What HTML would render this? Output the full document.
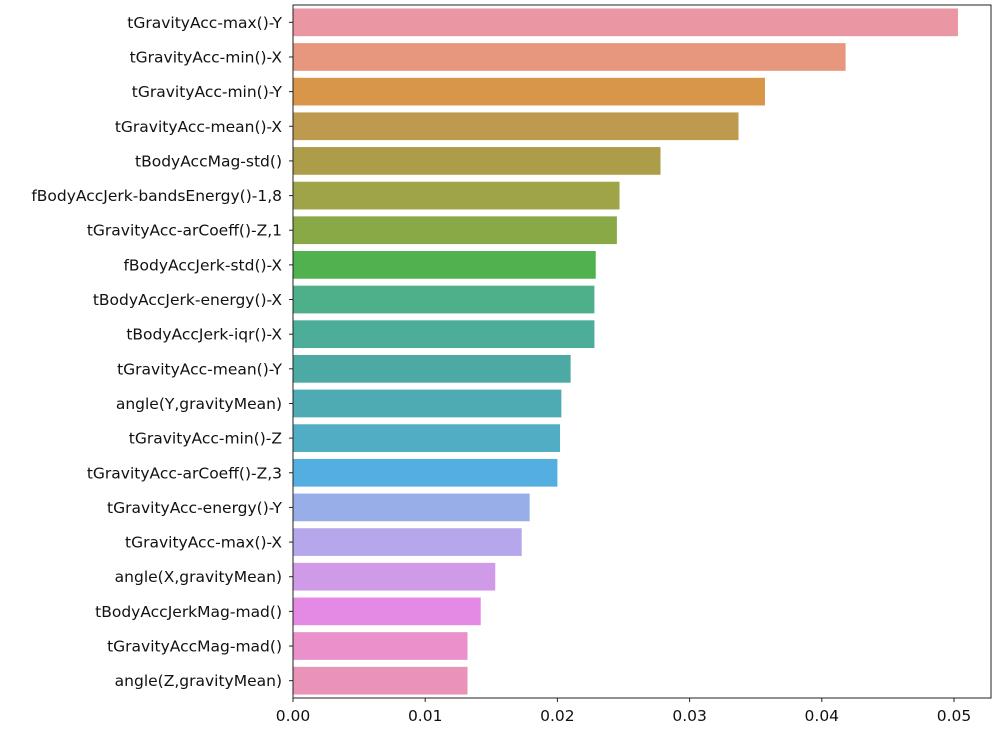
<!DOCTYPE html>
<html><head><meta charset="utf-8"><style>
body{margin:0;background:#fff}
svg text{font-family:"DejaVu Sans","Liberation Sans",sans-serif;font-size:15.5px;fill:#111}
</style></head><body>
<svg id="chart" width="1007" height="740" xmlns="http://www.w3.org/2000/svg"></svg>
<script>
const categories=["tGravityAcc-max()-Y","tGravityAcc-min()-X","tGravityAcc-min()-Y","tGravityAcc-mean()-X","tBodyAccMag-std()","fBodyAccJerk-bandsEnergy()-1,8","tGravityAcc-arCoeff()-Z,1","fBodyAccJerk-std()-X","tBodyAccJerk-energy()-X","tBodyAccJerk-iqr()-X","tGravityAcc-mean()-Y","angle(Y,gravityMean)","tGravityAcc-min()-Z","tGravityAcc-arCoeff()-Z,3","tGravityAcc-energy()-Y","tGravityAcc-max()-X","angle(X,gravityMean)","tBodyAccJerkMag-mad()","tGravityAccMag-mad()","angle(Z,gravityMean)"];
const values=[0.0503,0.0418,0.0357,0.0337,0.0278,0.0247,0.0245,0.0229,0.0228,0.0228,0.0210,0.0203,0.0202,0.0200,0.0179,0.0173,0.0153,0.0142,0.0132,0.0132];
const colors=["#ea96a3","#e8977f","#d89648","#be9a4e","#ad9c48","#9ea447","#88a946","#4fb24f","#4db08a","#4cad98","#4ca9a4","#4eaab3","#50adc4","#55aee0","#97aee8","#b6a6ec","#cf9ae8","#e48ae5","#ea90cb","#e993b8"];
const xticks=[0,0.01,0.02,0.03,0.04,0.05];
const xtickLabels=["0.00","0.01","0.02","0.03","0.04","0.05"];
const L=293,R=991,T=5,B=698,pxPer=13220;
const svg=document.getElementById('chart');
const NS="http://www.w3.org/2000/svg";
const x=v=>L+v*pxPer;
const band=(B-T)/categories.length;
const yc=i=>T+band*(i+0.5);
function mk(t,a){const e=document.createElementNS(NS,t);for(const k in a)e.setAttribute(k,a[k]);svg.appendChild(e);return e;}
categories.forEach((c,i)=>{
  const r=mk('rect',{x:x(0),y:yc(i)-band*0.4,width:x(values[i])-x(0),height:band*0.8,fill:colors[i]});
  
  
  const tk=mk('line',{x1:L-4,x2:L,y1:yc(i),y2:yc(i),stroke:'#222','stroke-width':1});
  
  
  const t=mk('text',{x:L-11,y:yc(i)+5.5,'text-anchor':'end'});
  t.textContent=c;
  
  
});
xticks.forEach((v,i)=>{
  const tk=mk('line',{x1:x(v),x2:x(v),y1:B,y2:B+4,stroke:'#222','stroke-width':1});
  
  
  const t=mk('text',{x:x(v),y:B+23,'text-anchor':'middle'});
  t.textContent=xtickLabels[i];
  
  
});
const f=mk('rect',{x:L,y:T,width:R-L,height:B-T,fill:'none',stroke:'#222','stroke-width':1});


</script>
</body></html>
